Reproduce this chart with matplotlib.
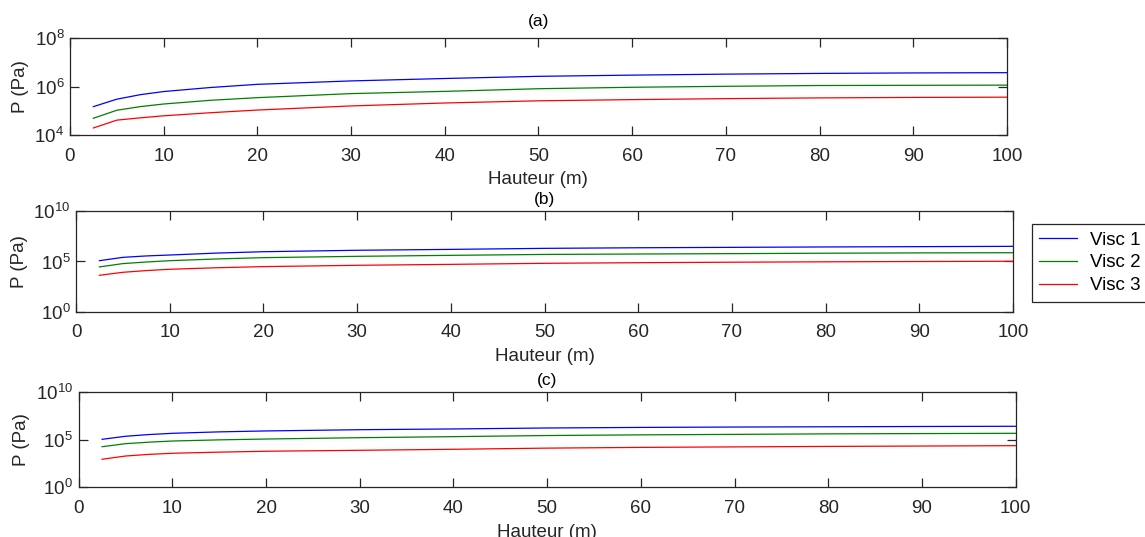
import numpy as np
import matplotlib.pyplot as plt
from matplotlib.ticker import NullLocator

plt.rcParams['font.family'] = ['Liberation Sans', 'DejaVu Sans']

# hauteur (m)
hauteur = [2.5, 5, 7.5, 10, 15, 20, 30, 40, 50, 60, 70, 80, 90, 100]

# (a) pressions (Pa)
a_visc1 = [1.48e5, 3.0e5, 4.6e5, 6.2e5, 9.1e5, 1.23e6, 1.70e6, 2.14e6, 2.63e6, 2.95e6, 3.24e6, 3.47e6, 3.63e6, 3.72e6]
a_visc2 = [4.9e4, 1.05e5, 1.48e5, 1.9e5, 2.7e5, 3.47e5, 5.1e5, 6.3e5, 8.1e5, 9.3e5, 1.02e6, 1.10e6, 1.12e6, 1.14e6]
a_visc3 = [1.95e4, 4.1e4, 5.1e4, 6.2e4, 8.3e4, 1.07e5, 1.58e5, 2.09e5, 2.57e5, 2.88e5, 3.16e5, 3.39e5, 3.55e5, 3.63e5]

# (b)
b_visc1 = [1.2e5, 2.57e5, 3.55e5, 4.37e5, 6.8e5, 9.3e5, 1.29e6, 1.58e6, 2.0e6, 2.29e6, 2.51e6, 2.75e6, 2.95e6, 3.16e6]
b_visc2 = [2.9e4, 6.2e4, 8.9e4, 1.2e5, 1.78e5, 2.4e5, 3.24e5, 4.07e5, 5.0e5, 5.5e5, 6.0e5, 6.6e5, 7.1e5, 7.4e5]
b_visc3 = [4.3e3, 8.5e3, 1.26e4, 1.7e4, 2.4e4, 3.1e4, 4.2e4, 5.2e4, 6.6e4, 7.6e4, 8.5e4, 9.3e4, 1.0e5, 1.05e5]

# (c)
c_visc1 = [1.12e5, 2.34e5, 3.55e5, 4.8e5, 6.8e5, 8.5e5, 1.15e6, 1.38e6, 1.74e6, 2.0e6, 2.19e6, 2.34e6, 2.51e6, 2.63e6]
c_visc2 = [1.86e4, 3.9e4, 5.6e4, 7.4e4, 9.8e4, 1.2e5, 1.66e5, 2.14e5, 2.8e5, 3.3e5, 3.7e5, 4.2e5, 4.5e5, 4.8e5]
c_visc3 = [890, 1950, 2900, 3800, 5000, 6200, 7800, 1.0e4, 1.32e4, 1.58e4, 1.78e4, 2.0e4, 2.19e4, 2.4e4]

labels = ['Visc 1', 'Visc 2', 'Visc 3']
colors = ['#0000ff', '#008000', '#ff0000']
titles = ['(a)', '(b)', '(c)']
ylims = [(1e4, 1e8), (1e0, 1e10), (1e0, 1e10)]
yticks = [[1e4, 1e6, 1e8], [1e0, 1e5, 1e10], [1e0, 1e5, 1e10]]
panels = [[a_visc1, a_visc2, a_visc3],
          [b_visc1, b_visc2, b_visc3],
          [c_visc1, c_visc2, c_visc3]]

# axes boxes (figure fractions)
boxes = [[0.0611, 0.7486, 0.8183, 0.1806],
         [0.0664, 0.4190, 0.8183, 0.1881],
         [0.0687, 0.0926, 0.8183, 0.1769]]
title_pads = [9, 5, 5]

txt = '#262626'
fs = 13.5
fig = plt.figure(figsize=(11.45, 5.37), dpi=100)

axes = []
for i in range(3):
    ax = fig.add_axes(boxes[i])
    for j in range(3):
        ax.plot(hauteur, panels[i][j], color=colors[j], lw=0.9, label=labels[j])
    ax.set_yscale('log')
    ax.set_xlim(0, 100)
    ax.set_ylim(*ylims[i])
    ax.set_xticks(np.arange(0, 101, 10))
    ax.set_yticks(yticks[i])
    ax.yaxis.set_minor_locator(NullLocator())
    ax.tick_params(direction='in', length=6.5, width=0.9, top=True, right=True,
                   labelsize=fs, colors=txt)
    ax.tick_params(axis='x', pad=9)
    ax.tick_params(axis='y', pad=4)
    for s in ax.spines.values():
        s.set_color(txt)
        s.set_linewidth(0.9)
    ax.set_title(titles[i], fontsize=12.5, color='#000000', pad=title_pads[i])
    ax.set_xlabel('Hauteur (m)', fontsize=fs, color=txt, labelpad=5)
    ax.set_ylabel('P (Pa)', fontsize=fs, color=txt, labelpad=4)
    axes.append(ax)

leg = axes[1].legend(loc='upper left', bbox_to_anchor=(0.9013, 0.5829),
                     bbox_transform=fig.transFigure, fontsize=fs,
                     borderaxespad=0, frameon=True, fancybox=False,
                     handlelength=2.0, borderpad=0.4, labelspacing=0.3,
                     handletextpad=0.7)
leg.get_frame().set_edgecolor(txt)
leg.get_frame().set_linewidth(0.9)
leg.get_frame().set_alpha(1)

fig.savefig('out.png', dpi=100)
